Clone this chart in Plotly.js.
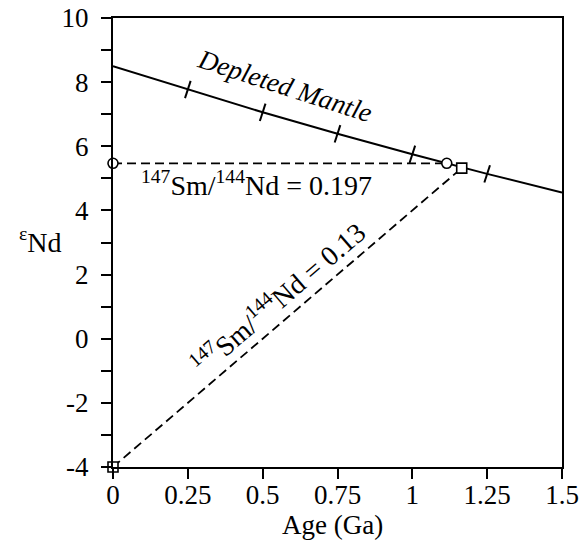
<!DOCTYPE html>
<html>
<head>
<meta charset="utf-8">
<script src="https://cdn.plot.ly/plotly-3.0.1.min.js"></script>
<style>html,body{margin:0;padding:0;background:#fff;}#chart{width:583px;height:543px;}</style>
</head>
<body>
<div id="chart"></div>
<script>
// Depleted mantle curve (Age in Ga, epsilon Nd)
var dmAge = [0, 0.25, 0.5, 0.75, 1.0, 1.25, 1.5];
var dmEps = [8.5, 7.77, 7.06, 6.39, 5.75, 5.14, 4.56];
// Tick marks on the curve
var dmTickAge = [0.25, 0.5, 0.75, 1.0, 1.25];
var dmTickEps = [7.77, 7.06, 6.39, 5.75, 5.14];
// Sm/Nd = 0.197 evolution line
var line197Age = [0, 1.115];
var line197Eps = [5.47, 5.47];
// Sm/Nd = 0.13 evolution line
var line013Age = [0, 1.165];
var line013Eps = [-4, 5.32];
// Axis ticks
var xTickVals = [0, 0.25, 0.5, 0.75, 1, 1.25, 1.5];
var xTickText = ["0", "0.25", "0.5", "0.75", "1", "1.25", "1.5"];
var yTickVals = [-4, -2, 0, 2, 4, 6, 8, 10];
var yTickText = ["-4", "-2", "0", "2", "4", "6", "8", "10"];

var F = "Liberation Serif, Times New Roman, serif";

var traces = [
  {x: dmAge, y: dmEps, mode: "lines", line: {color: "#000", width: 2}, hoverinfo: "skip"},
  {x: dmTickAge, y: dmTickEps, mode: "markers",
   marker: {symbol: "line-ns", size: 13, angle: 18, color: "#000", line: {color: "#000", width: 2}}},
  {x: line197Age, y: line197Eps, mode: "lines", line: {color: "#000", width: 1.8, dash: "9px,5px"}},
  {x: line013Age, y: line013Eps, mode: "lines", line: {color: "#000", width: 1.8, dash: "9px,5px"}},
  {x: line197Age, y: line197Eps, mode: "markers", cliponaxis: false,
   marker: {symbol: "circle", size: 10, color: "#fff", line: {color: "#000", width: 1.6}}},
  {x: line013Age, y: line013Eps, mode: "markers", cliponaxis: false,
   marker: {symbol: "square", size: 10, color: "#fff", line: {color: "#000", width: 1.6}}}
];

var layout = {
  width: 583, height: 543,
  margin: {l: 113, r: 21, t: 18, b: 76},
  paper_bgcolor: "#fff", plot_bgcolor: "#fff",
  showlegend: false,
  font: {family: F, color: "#000", size: 27},
  xaxis: {range: [0, 1.5], tickvals: xTickVals, ticktext: xTickText,
    ticks: "outside", ticklen: 10, tickwidth: 2, tickcolor: "#000", ticklabelstandoff: -7,
    showline: true, linewidth: 2, linecolor: "#000", mirror: true,
    showgrid: false, zeroline: false, tickfont: {family: F, size: 27}},
  yaxis: {range: [-4, 10], tickvals: yTickVals, ticktext: yTickText,
    ticks: "outside", ticklen: 10, tickwidth: 2, tickcolor: "#000", ticklabelstandoff: 7,
    minor: {dtick: 1, ticks: "outside", ticklen: 10, tickwidth: 2, tickcolor: "#000", showgrid: false},
    showline: true, linewidth: 2, linecolor: "#000", mirror: true,
    showgrid: false, zeroline: false, tickfont: {family: F, size: 27}},
  annotations: [
    {xref: "paper", yref: "paper", x: 0.488, y: -0.129, xanchor: "center", yanchor: "middle",
     text: "Age (Ga)", showarrow: false, font: {family: F, size: 27}},
    {xref: "paper", yref: "paper", x: -0.111, y: 0.505, xanchor: "right", yanchor: "middle",
     text: "<sup>ε</sup>Nd", showarrow: false, font: {family: F, size: 28}},
    {x: 0.575, y: 7.88, text: "<i>Depleted Mantle</i>", textangle: 18, showarrow: false,
     font: {family: F, size: 27}},
    {x: 0.478, y: 4.85, text: "<sup>147</sup>Sm/<sup>144</sup>Nd = 0.197", showarrow: false,
     font: {family: F, size: 28}},
    {x: 0.551, y: 1.3, text: "<sup>147</sup>Sm/<sup>144</sup>Nd = 0.13", textangle: -40.6, showarrow: false,
     font: {family: F, size: 28}}
  ]
};

Plotly.newPlot("chart", traces, layout, {displayModeBar: false, staticPlot: true});
</script>
</body>
</html>
